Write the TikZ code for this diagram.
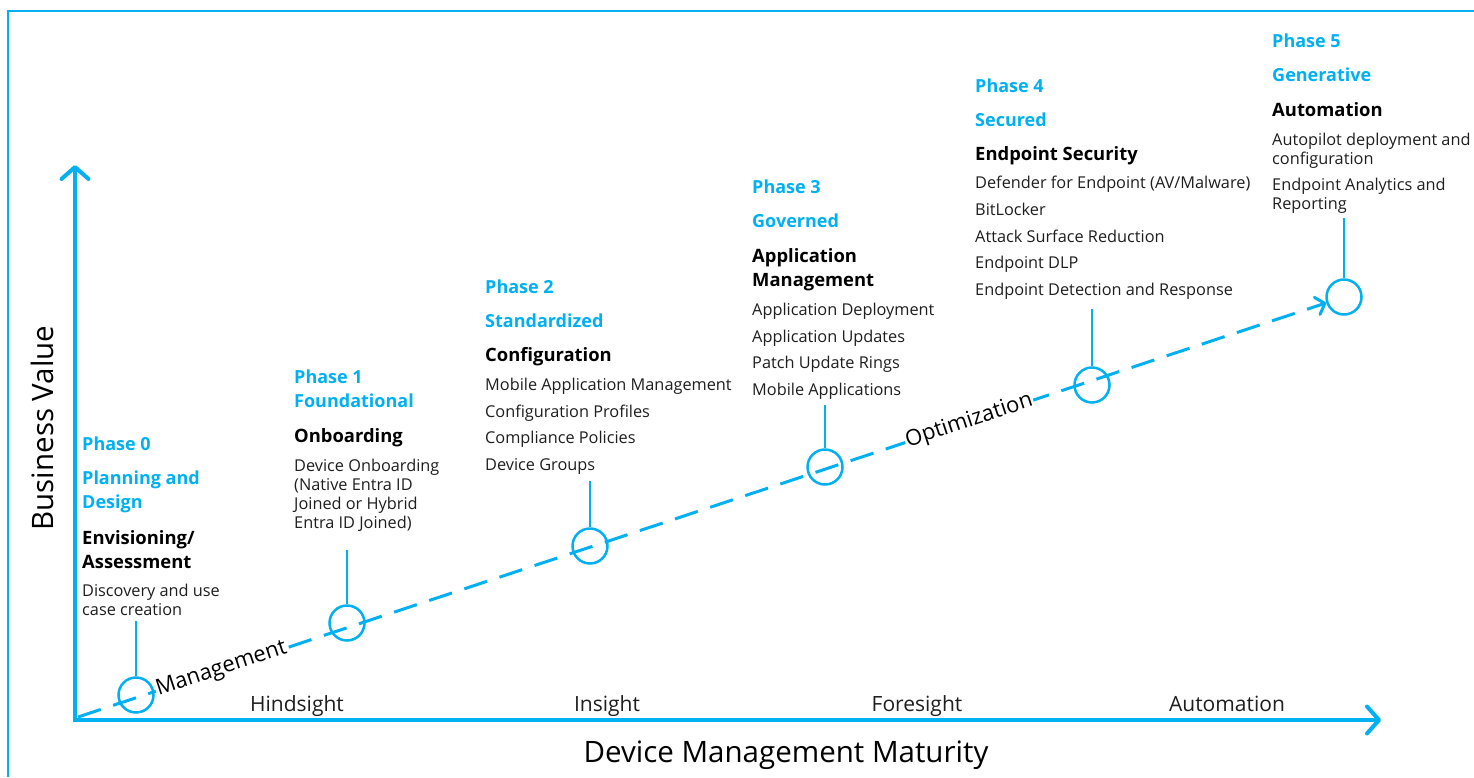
\documentclass[tikz,border=0pt]{standalone}
\usepackage{fontspec}
\setmainfont{Open Sans}
\usetikzlibrary{arrows.meta}

\definecolor{msblue}{HTML}{00B0F0}
\definecolor{bodytext}{HTML}{1E1E1E}

\tikzset{
  frameline/.style={msblue, line width=2pt},
  axisline/.style={msblue, line width=4pt,
    arrows={Straight Barb[length=12pt,width=27pt,round]-Straight Barb[length=12pt,width=27pt,round]}},
  trendline/.style={msblue, line width=3pt, dash pattern=on 24pt off 13pt,
    arrows={-Straight Barb[length=8pt,width=18pt,round]}},
  trendtext/.style={fill=white, inner sep=1pt, text=black, font=\fontsize{22}{24}\selectfont},
  milestone/.style={circle, draw=msblue, line width=2.5pt, minimum size=35pt, inner sep=0pt},
  stem/.style={msblue, line width=2pt},
  phaselbl/.style={anchor=north west, inner sep=0pt, align=left, text=msblue,
    font=\bfseries\fontsize{18}{24}\selectfont},
  phasehead/.style={anchor=north west, inner sep=0pt, align=left, text=black,
    font=\bfseries\fontsize{18.4}{24}\selectfont},
  phaseitems/.style={anchor=north west, inner sep=0pt, align=left, text=bodytext,
    font=\fontsize{16.3}{19}\selectfont},
  ticktext/.style={anchor=base, text=bodytext, font=\fontsize{21}{24}\selectfont},
  axistext/.style={text=black, font=\fontsize{29.5}{32}\selectfont}
}

\begin{document}
\begin{tikzpicture}[x=1pt,y=-1pt]
\useasboundingbox (0,0) rectangle (1474,777);

% frame
\draw[frameline] (8,777) -- (8,11) -- (1474,11);

% axes
\coordinate (ytop) at (75,165);
\coordinate (orig) at (75,720);
\coordinate (xend) at (1381,720);
\draw[axisline] (ytop) -- (orig) -- (xend);

\node[axistext, rotate=90] (yname) at (42,428) {Business Value};
\node[axistext] (xname) at (786,755) {Device Management Maturity};

\node[ticktext] (hind) at (297,711) {Hindsight};
\node[ticktext] (insi) at (607,711) {Insight};
\node[ticktext] (fore) at (917,711) {Foresight};
\node[ticktext] (auto) at (1227,711) {Automation};

% milestones
\node[milestone] (c0) at (136,695) {};
\node[milestone] (c1) at (347,623) {};
\node[milestone] (c2) at (590,546) {};
\node[milestone] (c3) at (825,467) {};
\node[milestone] (c4) at (1092,385) {};
\node[milestone] (c5) at (1344,297) {};

% trend
\coordinate (tstart) at (78,717);
\draw[trendline] (tstart)
  -- node[pos=0.115, sloped, trendtext] (mgmt) {Management}
     node[pos=0.714, sloped, trendtext] (optim) {Optimization}
  (c5);

% phase 0
\node[phaselbl] (lbl0) at (82,437) {Phase 0\\[10pt]Planning and\\Design};
\node[phasehead] (head0) at (82,530) {Envisioning/\\Assessment};
\node[phaseitems] (item0) at (82,584) {Discovery and use\\case creation};

% phase 1
\node[phaselbl] (lbl1) at (294,370) {Phase 1\\Foundational};
\node[phasehead] (head1) at (294,428) {Onboarding};
\node[phaseitems] (item1) at (294,459) {Device Onboarding\\(Native Entra ID\\Joined or Hybrid\\Entra ID Joined)};

% phase 2
\node[phaselbl] (lbl2) at (485,280) {Phase 2\\[10pt]Standardized};
\node[phasehead] (head2) at (485,347) {Configuration};
\node[phaseitems] (item2) at (485,378) {Mobile Application Management\\[7.7pt]Configuration Profiles\\[7.7pt]Compliance Policies\\[7.7pt]Device Groups};

% phase 3
\node[phaselbl] (lbl3) at (752,180) {Phase 3\\[10pt]Governed};
\node[phasehead] (head3) at (752,248) {Application\\Management};
\node[phaseitems] (item3) at (752,303) {Application Deployment\\[7.7pt]Application Updates\\[7.7pt]Patch Update Rings\\[7.7pt]Mobile Applications};

% phase 4
\node[phaselbl] (lbl4) at (975,79) {Phase 4\\[10pt]Secured};
\node[phasehead] (head4) at (975,146) {Endpoint Security};
\node[phaseitems] (item4) at (975,176) {Defender for Endpoint (AV/Malware)\\[7.7pt]BitLocker\\[7.7pt]Attack Surface Reduction\\[7.7pt]Endpoint DLP\\[7.7pt]Endpoint Detection and Response};

% phase 5
\node[phaselbl] (lbl5) at (1272,34) {Phase 5\\[10pt]Generative};
\node[phasehead] (head5) at (1272,102) {Automation};
\node[phaseitems] (item5) at (1272,133) {Autopilot deployment and\\configuration\\[7pt]Endpoint Analytics and\\Reporting};

% stems
\draw[stem, shorten >=5pt] (c0.north) -- (c0.north |- item0.south);
\draw[stem, shorten >=18pt] (c1.north) -- (c1.north |- item1.south);
\draw[stem, shorten >=6pt] (c2.north) -- (c2.north |- item2.south);
\draw[stem, shorten >=5pt] (c3.north) -- (c3.north |- item3.south);
\draw[stem, shorten >=9pt] (c4.north) -- (c4.north |- item4.south);
\draw[stem, shorten >=4pt] (c5.north) -- (c5.north |- item5.south);
\end{tikzpicture}
\end{document}
